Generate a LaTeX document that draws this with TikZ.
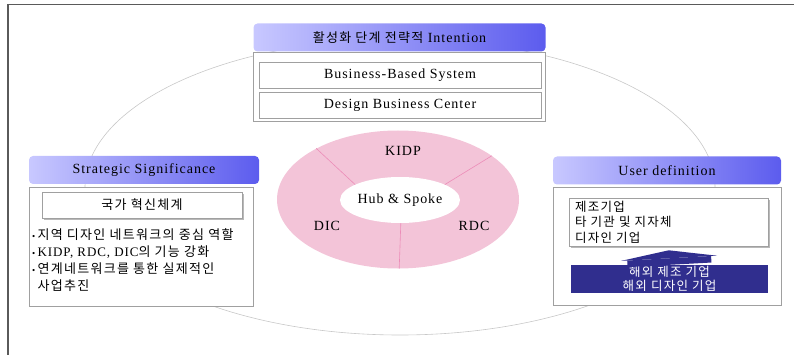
\documentclass[tikz,border=0pt]{standalone}
\usepackage{fontspec}
\setmainfont{Liberation Serif}[LetterSpace=7]
\newfontfamily\kr{Noto Sans CJK KR}[LetterSpace=10]
\usetikzlibrary{arrows.meta,positioning,shapes.geometric,shadows}
\definecolor{HeadLight}{RGB}{200,200,255}
\definecolor{HeadDeep}{RGB}{92,92,238}
\definecolor{PanelGray}{RGB}{160,160,160}
\definecolor{FrameGray}{RGB}{90,90,90}
\definecolor{OrbitGray}{RGB}{200,200,200}
\definecolor{RingPink}{RGB}{243,196,216}
\definecolor{RingLine}{RGB}{236,140,184}
\definecolor{NavyBox}{RGB}{48,46,142}
\newcommand{\dotmark}{{\rmfamily\small•}\,}
\tikzset{
  headbar/.style={rounded corners=4pt, left color=HeadLight, right color=HeadDeep,
    minimum width=#1, minimum height=28pt, inner sep=0pt, font=\fontsize{14}{16}\selectfont},
  headbar/.default=230pt,
  panel/.style={draw=PanelGray, line width=0.8pt, fill=white, inner sep=0pt},
  itembox/.style={draw=PanelGray, line width=0.8pt, fill=white, minimum width=#1,
    minimum height=26pt, inner sep=0pt, font=\fontsize{14}{16}\selectfont},
  itembox/.default=282pt,
  shadebox/.style={draw=PanelGray, line width=0.6pt, fill=white, minimum width=#1,
    drop shadow={shadow xshift=2pt, shadow yshift=-2pt, fill=gray!55, opacity=1}},
  shadebox/.default=200pt,
  ringlabel/.style={font=\fontsize{14}{16}\selectfont, inner sep=1pt},
  blockarr/.style={-{Triangle[length=8pt, width=96pt, line width=0pt]}, line width=84pt, NavyBox},
}
\begin{document}
\begin{tikzpicture}[x=1pt, y=-1pt]
  \useasboundingbox (0,0) rectangle (794,355);
  \draw[FrameGray, line width=1.2pt] (8,355) -- (8,4.5) -- (794,4.5);
  \draw[OrbitGray, line width=0.6pt] (400,187) ellipse [x radius=315, y radius=148];

  % top: intention
  \node[headbar=292pt] (hTop) at (399.5,37.5) {{\kr\fontsize{13}{15}\selectfont 활성화 단계 전략적} Intention};
  \node[panel, minimum width=292pt, minimum height=69pt] (pTop) at (399,86.5) {};
  \node[itembox] (b1) at (400,75) {Business-Based System};
  \node[itembox, below=4pt of b1] (b2) {Design Business Center};

  % left: strategic significance
  \node[headbar=230pt] (hLeft) at (144,170) {Strategic Significance};
  \node[panel, minimum width=224pt, minimum height=119pt] (pLeft) at (141,246.5) {};
  \node[shadebox=200pt, minimum height=26pt, font=\kr\fontsize{13}{15}\selectfont] (nis) at (142,205) {국가 혁신체계};
  \node[anchor=north west, align=left, inner sep=0pt, font=\kr\fontsize{13}{17.3}\selectfont] (bul) at (32,228)
    {\dotmark 지역 디자인 네트워크의 중심 역할\\
     \dotmark{\rmfamily\fontsize{13}{15}\selectfont KIDP, RDC, DIC}의 기능 강화\\
     \dotmark 연계네트워크를 통한 실제적인\\
     \phantom{\dotmark}사업추진};

  % right: user definition
  \node[headbar=228pt] (hRight) at (667,170.5) {User definition};
  \node[panel, minimum width=228pt, minimum height=118pt] (pRight) at (667,246) {};
  \node[shadebox=199pt, minimum height=48pt, align=left, text width=187pt, inner sep=0pt,
    font=\kr\fontsize{12.5}{15.5}\selectfont] (users) at (668.5,222)
    {제조기업\\타 기관 및 지자체\\디자인 기업};
  \node[fill=NavyBox, text=white, minimum width=197pt, minimum height=28pt, inner sep=0pt,
    align=center, font=\kr\fontsize{12.5}{14}\selectfont] (abroad) at (669.5,279)
    {해외 제조 기업\\해외 디자인 기업};
  \draw[blockarr, shorten >=4pt] (abroad.north) -- (users.south);

  % center: hub and spoke
  \node[ellipse, fill=RingPink, minimum width=242pt, minimum height=138pt, inner sep=0pt] (ring) at (398,199.5) {};
  \node[ellipse, fill=white, minimum width=96pt, minimum height=46pt, inner sep=0pt,
    font=\fontsize{14}{16}\selectfont] (hub) at (400,200) {Hub \& Spoke};
  \draw[RingLine, line width=0.6pt] (hub.161) -- (ring.148);
  \draw[RingLine, line width=0.6pt] (hub.19) -- (ring.25);
  \draw[RingLine, line width=0.6pt] (hub.-88) -- (ring.-89);
  \node[ringlabel] (kidp) at (403,151) {KIDP};
  \node[ringlabel] (dic) at (327,226) {DIC};
  \node[ringlabel] (rdc) at (474,226) {RDC};
\end{tikzpicture}
\end{document}
